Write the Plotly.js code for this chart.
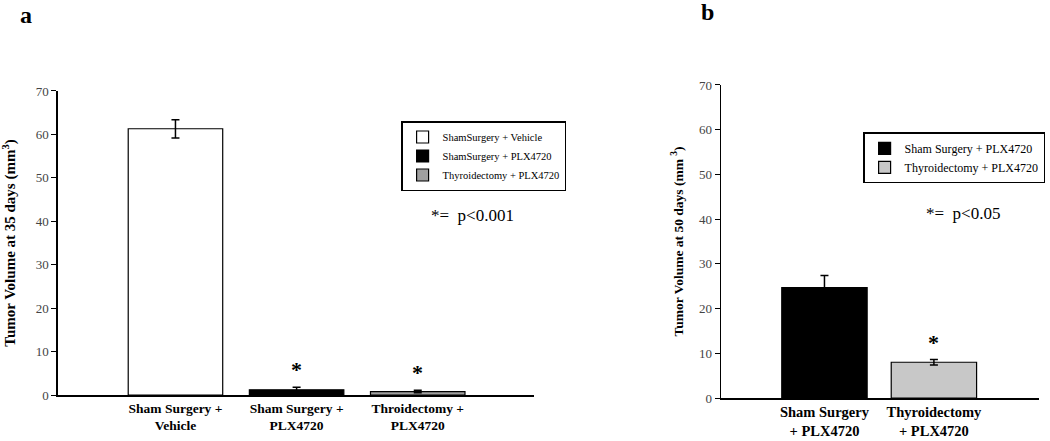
<!DOCTYPE html>
<html>
<head>
<meta charset="utf-8">
<script src="https://cdn.plot.ly/plotly-3.0.1.min.js"></script>
<style>
  body { margin: 0; background: #fff; }
  #chart { width: 1050px; height: 441px; }
</style>
</head>
<body>
<div id="chart"></div>
<script>
// panel a - 35 days
const catsA = ['Sham Surgery +<br>Vehicle', 'Sham Surgery +<br>PLX4720', 'Throidectomy +<br>PLX4720'];
const namesA = ['ShamSurgery + Vehicle', 'ShamSurgery + PLX4720', 'Thyroidectomy + PLX4720'];
const valsA = [61.3, 1.2, 0.8];
const errA = [2.1, 0.6, 0.3];
const colorsA = ['#ffffff', '#000000', '#a0a0a0'];
const starA = [false, true, true];

// panel b - 50 days
const catsB = ['Sham Surgery<br>+ PLX4720', 'Thyroidectomy<br>+ PLX4720'];
const namesB = ['Sham Surgery + PLX4720', 'Thyroidectomy + PLX4720'];
const valsB = [24.7, 8.0];
const errB = [2.7, 0.6];
const colorsB = ['#000000', '#c8c8c8'];
const starB = [false, true];

const serif = 'Liberation Serif, Times New Roman, serif';

function makeBars(cats, names, vals, errs, colors, xa, ya, legend) {
  return cats.map((c, i) => ({
    type: 'bar',
    x: [c],
    y: [vals[i]],
    name: names[i],
    xaxis: xa,
    yaxis: ya,
    legend: legend,
    width: 0.78,
    marker: { color: colors[i], line: { color: '#000', width: 1.2 } },
    error_y: { type: 'data', array: [errs[i]], color: '#000', thickness: 1.5, width: 4 }
  }));
}

function makeStars(cats, vals, errs, stars, xref, yref) {
  const out = [];
  cats.forEach((c, i) => {
    if (!stars[i]) return;
    out.push({
      x: c, y: vals[i] + errs[i], xref: xref, yref: yref,
      text: '<b>*</b>', showarrow: false, yanchor: 'bottom', yshift: 3,
      font: { family: serif, size: 22, color: '#000' }
    });
  });
  return out;
}

const data = makeBars(catsA, namesA, valsA, errA, colorsA, 'x', 'y', 'legend')
  .concat(makeBars(catsB, namesB, valsB, errB, colorsB, 'x2', 'y2', 'legend2'));

const yaxisStyle = {
  range: [0, 70],
  dtick: 10,
  showline: true,
  linecolor: '#000',
  linewidth: 1.5,
  ticks: 'outside',
  ticklen: 5,
  tickcolor: '#000',
  showgrid: false,
  zeroline: false,
  tickfont: { family: serif, size: 13, color: '#444' }
};

const xaxisStyle = {
  type: 'category',
  showline: true,
  linecolor: '#000',
  linewidth: 1.5,
  ticks: '',
  showgrid: false,
  zeroline: false,
  tickfont: { family: serif, size: 13.5, color: '#000', weight: 'bold' }
};

const layout = {
  width: 1050,
  height: 441,
  margin: { l: 0, r: 0, t: 0, b: 0 },
  paper_bgcolor: '#fff',
  plot_bgcolor: '#fff',
  barmode: 'overlay',
  font: { family: serif, color: '#000' },
  xaxis: Object.assign({}, xaxisStyle, { domain: [0.0552, 0.5086], range: [-0.97, 2.96], anchor: 'y' }),
  yaxis: Object.assign({}, yaxisStyle, {
    domain: [0.1043, 0.7937], anchor: 'x',
    title: { text: '<b>Tumor Volume at 35 days (mm<sup>3</sup>)</b>', font: { family: serif, size: 15 }, standoff: 16 }
  }),
  xaxis2: Object.assign({}, xaxisStyle, {
    domain: [0.6867, 0.9895], range: [-0.945, 1.96], anchor: 'y2',
    tickfont: { family: serif, size: 14.5, color: '#000', weight: 'bold' }
  }),
  yaxis2: Object.assign({}, yaxisStyle, {
    domain: [0.0975, 0.8073], anchor: 'x2',
    title: { text: '<b>Tumor Volume at 50 days (mm <sup>3</sup>)</b>', font: { family: serif, size: 13.5 }, standoff: 12 }
  }),
  legend: {
    x: 0.382, y: 0.7256, xanchor: 'left', yanchor: 'top',
    bordercolor: '#000', borderwidth: 1.5, bgcolor: '#fff',
    font: { family: serif, size: 10.5, color: '#000' },
    tracegroupgap: 0, itemwidth: 30
  },
  legend2: {
    x: 0.822, y: 0.70, xanchor: 'left', yanchor: 'top',
    bordercolor: '#000', borderwidth: 1.5, bgcolor: '#fff',
    font: { family: serif, size: 12, color: '#000' },
    tracegroupgap: 0, itemwidth: 30
  },
  showlegend: true,
  annotations: [
    { x: 0.017, y: 0.965, xref: 'paper', yref: 'paper', text: '<b>a</b>', showarrow: false,
      xanchor: 'left', yanchor: 'middle', font: { family: serif, size: 24 } },
    { x: 0.666, y: 0.972, xref: 'paper', yref: 'paper', text: '<b>b</b>', showarrow: false,
      xanchor: 'left', yanchor: 'middle', font: { family: serif, size: 24 } },
    { x: 0.45, y: 0.512, xref: 'paper', yref: 'paper', text: '*=  p<0.001', showarrow: false,
      xanchor: 'center', yanchor: 'middle', font: { family: serif, size: 17 } },
    { x: 0.917, y: 0.517, xref: 'paper', yref: 'paper', text: '*=  p<0.05', showarrow: false,
      xanchor: 'center', yanchor: 'middle', font: { family: serif, size: 17 } }
  ].concat(makeStars(catsA, valsA, errA, starA, 'x', 'y'))
   .concat(makeStars(catsB, valsB, errB, starB, 'x2', 'y2'))
};

Plotly.newPlot('chart', data, layout, { staticPlot: true });
</script>
</body>
</html>
